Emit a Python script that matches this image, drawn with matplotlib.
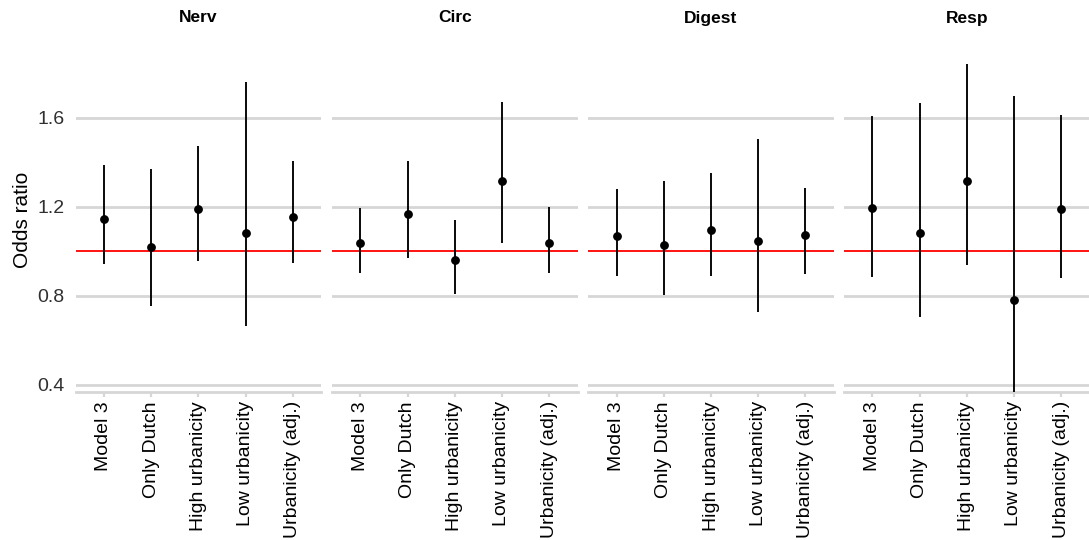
import matplotlib
matplotlib.use("Agg")
import matplotlib.pyplot as plt

plt.rcParams['font.family'] = ['Liberation Sans', 'DejaVu Sans']

categories = ["Model 3", "Only Dutch", "High urbanicity", "Low urbanicity", "Urbanicity (adj.)"]
panels = ["Nerv", "Circ", "Digest", "Resp"]

nerv_or = [1.145, 1.017, 1.188, 1.082, 1.154]
nerv_lo = [0.942, 0.756, 0.957, 0.664, 0.948]
nerv_hi = [1.389, 1.369, 1.473, 1.760, 1.404]

circ_or = [1.038, 1.167, 0.960, 1.317, 1.038]
circ_lo = [0.902, 0.969, 0.806, 1.036, 0.902]
circ_hi = [1.196, 1.404, 1.140, 1.669, 1.199]

digest_or = [1.067, 1.026, 1.097, 1.046, 1.074]
digest_lo = [0.890, 0.802, 0.887, 0.727, 0.896]
digest_hi = [1.280, 1.317, 1.353, 1.504, 1.284]

resp_or = [1.192, 1.083, 1.314, 0.782, 1.190]
resp_lo = [0.885, 0.703, 0.938, 0.350, 0.880]
resp_hi = [1.606, 1.666, 1.843, 1.699, 1.612]

y_ticks = [0.4, 0.8, 1.2, 1.6]
y_tick_labels = ["0.4", "0.8", "1.2", "1.6"]
reference = 1.0

series = [
    (nerv_or, nerv_lo, nerv_hi),
    (circ_or, circ_lo, circ_hi),
    (digest_or, digest_lo, digest_hi),
    (resp_or, resp_lo, resp_hi),
]

W, H = 1089, 540
fig = plt.figure(figsize=(W / 100, H / 100), dpi=100)

lefts = [75.6, 332.0, 588.3, 844.0]
pw = 245.5
top_px, bot_px = 48, 392
grid_c = "#d6d6d6"

x = list(range(len(categories)))
for i, (name, (orv, lo, hi)) in enumerate(zip(panels, series)):
    ax = fig.add_axes([lefts[i] / W, 1 - bot_px / H, pw / W, (bot_px - top_px) / H])
    ax.set_xlim(-0.6, len(categories) - 0.4)
    ax.set_ylim(0.3675, 1.913)
    ax.set_yticks(y_ticks)
    ax.grid(axis='y', color=grid_c, linewidth=2.0, zorder=0)
    ax.set_axisbelow(True)
    for s in ['top', 'right', 'left']:
        ax.spines[s].set_visible(False)
    ax.spines['bottom'].set_color(grid_c)
    ax.spines['bottom'].set_linewidth(2.0)
    ax.axhline(reference, color='#ff0000', linewidth=1.3, zorder=2)
    ax.vlines(x, lo, hi, color='black', linewidth=1.35, zorder=3)
    ax.plot(x, orv, 'o', color='black', markersize=5.3, zorder=4)
    ax.set_xticks(x)
    ax.set_xticklabels(categories, rotation=90, fontsize=14, color='black')
    ax.tick_params(axis='x', length=3.6, width=1.6, color=grid_c, pad=3)
    if i == 0:
        ax.set_yticklabels(y_tick_labels, fontsize=14, color='#303030')
        ax.tick_params(axis='y', length=0, pad=8)
        ax.set_ylabel("Odds ratio", fontsize=15, labelpad=4)
    else:
        ax.tick_params(axis='y', length=0, labelleft=False)
    fig.text((lefts[i] + pw / 2) / W, 1 - 18 / H, name, ha='center', va='center',
             fontsize=12.5, fontweight='bold')

fig.savefig("out.png", dpi=100)
